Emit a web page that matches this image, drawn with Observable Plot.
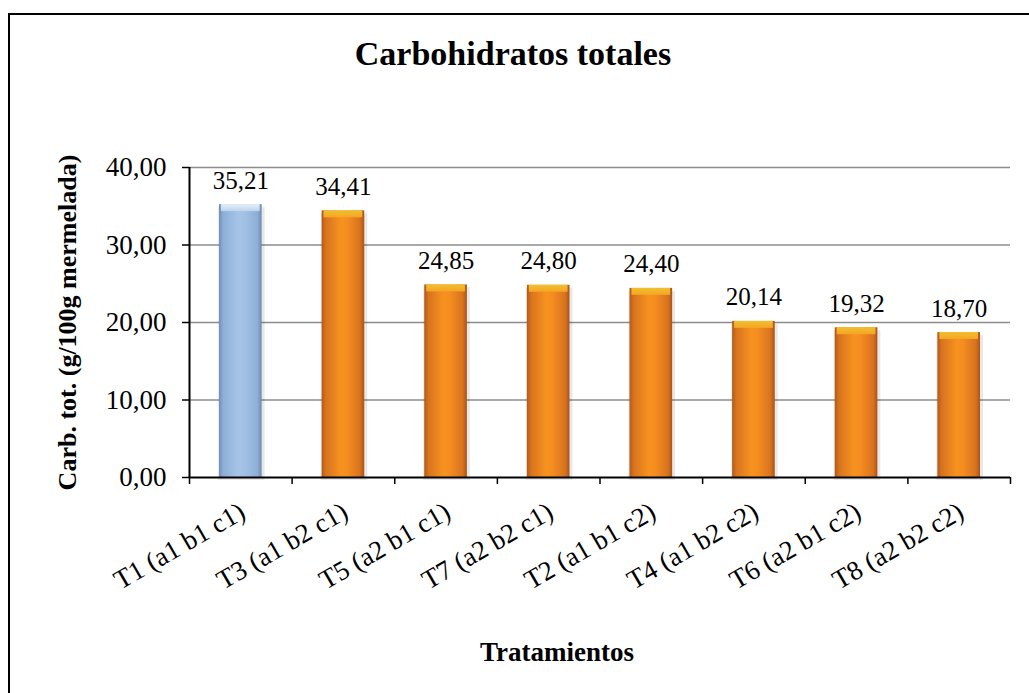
<!DOCTYPE html>
<html>
<head>
<meta charset="utf-8">
<script src="https://cdn.jsdelivr.net/npm/d3@7"></script>
<script src="https://cdn.jsdelivr.net/npm/@observablehq/plot@0.6"></script>
<style>
  html, body { margin: 0; padding: 0; background: #fff; overflow: hidden; }
  #wrap { position: relative; width: 1029px; height: 693px; overflow: hidden; }
  #border { position: absolute; left: 8px; top: 13px; width: 1100px; height: 800px; border: 2px solid #000; box-sizing: border-box; }
  #chart { position: absolute; left: 0; top: 0; }
</style>
</head>
<body>
<div id="wrap">
  <div id="border"></div>
  <div id="chart"></div>
</div>
<script>
const categories = ["T1 (a1 b1 c1)", "T3 (a1 b2 c1)", "T5 (a2 b1 c1)", "T7 (a2 b2 c1)", "T2 (a1 b1 c2)", "T4 (a1 b2 c2)", "T6 (a2 b1 c2)", "T8 (a2 b2 c2)"];
const values = [35.21, 34.41, 24.85, 24.80, 24.40, 20.14, 19.32, 18.70];
const highlight = ["T1 (a1 b1 c1)"];
const yTicks = [0, 10, 20, 30, 40];
const title = "Carbohidratos totales";
const yLabel = "Carb. tot. (g/100g mermelada)";
const xLabel = "Tratamientos";

const data = categories.map((c, i) => ({c, i, v: values[i], blue: highlight.includes(c)}));
const fmt = d => d.toFixed(2).replace(".", ",");
const FONT = "'Liberation Serif', 'Times New Roman', serif";
const inset = 30;

const plot = Plot.plot({
  width: 1029,
  height: 693,
  marginLeft: 189,
  marginRight: 19,
  marginTop: 167,
  marginBottom: 216,
  style: {fontFamily: FONT, color: "#000", background: "transparent", overflow: "visible"},
  x: {type: "linear", domain: [0, categories.length], axis: null},
  y: {domain: [0, d3.max(yTicks)], axis: null},
  marks: [
    Plot.gridY(yTicks.slice(1), {stroke: "#8c8c8c", strokeOpacity: 1, strokeWidth: 1.5}),
    Plot.rectY(data, {x1: "i", x2: d => d.i + 1, y: "v", insetLeft: inset - 1, insetRight: inset - 3, dy: 3, fill: "#000", fillOpacity: 0.09}),
    Plot.rectY(data.filter(d => d.blue), {x1: "i", x2: d => d.i + 1, y: "v", insetLeft: inset, insetRight: inset, fill: "url(#gBlue)"}),
    Plot.rectY(data.filter(d => !d.blue), {x1: "i", x2: d => d.i + 1, y: "v", insetLeft: inset, insetRight: inset, fill: "url(#gOrange)"}),
    Plot.rectY(data.filter(d => d.blue), {x1: "i", x2: d => d.i + 1, y1: d => d.v - 0.9, y2: "v", insetLeft: inset + 2, insetRight: inset + 2, fill: "url(#cBlue)"}),
    Plot.rectY(data.filter(d => !d.blue), {x1: "i", x2: d => d.i + 1, y1: d => d.v - 0.9, y2: "v", insetLeft: inset + 2, insetRight: inset + 2, fill: "url(#cOrange)"}),
    Plot.ruleY([0], {stroke: "#000", strokeWidth: 2}),
    Plot.ruleX([0], {y1: 0, y2: d3.max(yTicks), stroke: "#000", strokeWidth: 2}),
    Plot.axisY({ticks: yTicks, tickSize: 7, tickPadding: 16, fontSize: 27, tickFormat: fmt, label: null, stroke: "#000", strokeWidth: 1.5}),
    Plot.axisX({ticks: d3.range(0, categories.length + 1), tickSize: 7, tickFormat: () => "", label: null, stroke: "#000", strokeWidth: 1.5}),
    Plot.text(data, {x: d => d.i + 0.5, y: "v", text: d => fmt(d.v), dy: -24, fontSize: 25, fill: "#000"}),
    Plot.text(data, {x: d => d.i + 0.5, frameAnchor: "bottom", text: "c", dy: 32, dx: 2, rotate: -30, textAnchor: "end", lineAnchor: "middle", fontSize: 27, fill: "#000"}),
    Plot.text([yLabel], {frameAnchor: "left", dx: -122, rotate: -90, textAnchor: "middle", lineAnchor: "middle", fontSize: 26, fontWeight: "bold", fill: "#000"}),
    Plot.text([xLabel], {frameAnchor: "bottom", dy: 183, dx: -43, fontSize: 27, fontWeight: "bold", fill: "#000"}),
    Plot.text([title], {frameAnchor: "top", dy: -127, dx: -87, fontSize: 34, fontWeight: "bold", fill: "#000"})
  ]
});

const defs = d3.select(plot).insert("defs", ":first-child");
function hgrad(id, stops) {
  const g = defs.append("linearGradient").attr("id", id).attr("x1", "0").attr("x2", "1").attr("y1", "0").attr("y2", "0");
  stops.forEach(([o, c]) => g.append("stop").attr("offset", o).attr("stop-color", c));
}
function vgrad(id, stops) {
  const g = defs.append("linearGradient").attr("id", id).attr("x1", "0").attr("x2", "0").attr("y1", "0").attr("y2", "1");
  stops.forEach(([o, c]) => g.append("stop").attr("offset", o).attr("stop-color", c));
}
hgrad("gOrange", [["0%", "#b05a1c"], ["10%", "#d8731f"], ["45%", "#f7921f"], ["60%", "#f58d1f"], ["90%", "#d8731f"], ["100%", "#a85418"]]);
hgrad("gBlue", [["0%", "#7090b8"], ["10%", "#8fafd6"], ["45%", "#a6c4e8"], ["60%", "#a2c0e4"], ["90%", "#8fafd6"], ["100%", "#6c8bb2"]]);
vgrad("cOrange", [["0%", "#f0c030"], ["100%", "#f5a525"]]);
vgrad("cBlue", [["0%", "#e4eef9"], ["100%", "#bcd3ee"]]);

document.getElementById("chart").appendChild(plot);
</script>
</body>
</html>
